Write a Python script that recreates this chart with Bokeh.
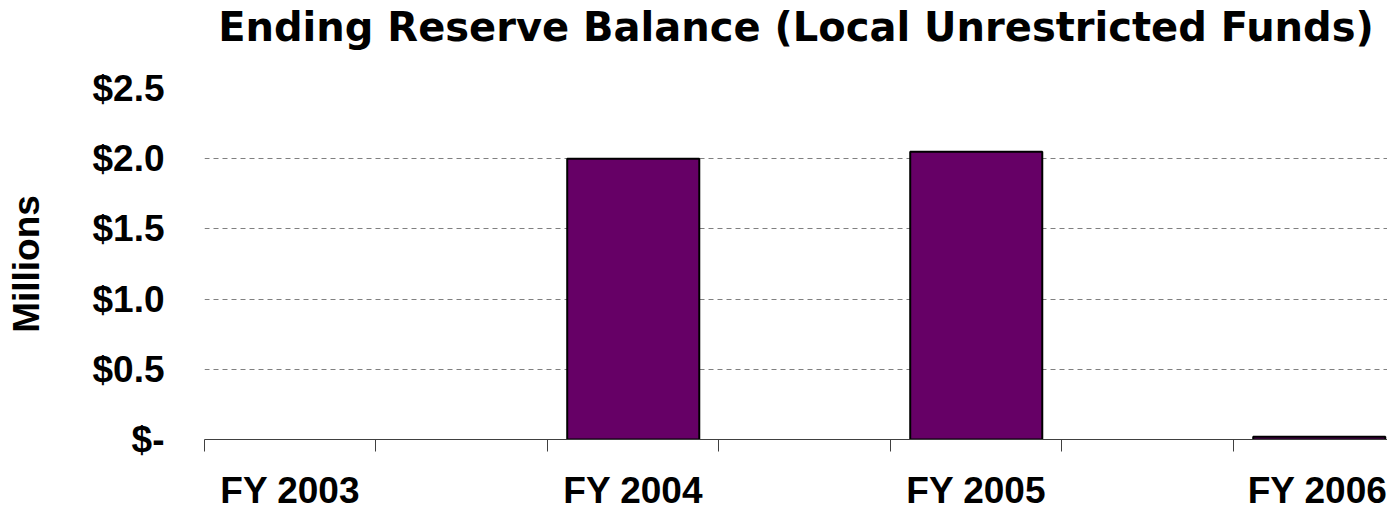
from bokeh.plotting import figure
from bokeh.models import Range1d, FixedTicker, ColumnDataSource, Title
from bokeh.embed import file_html
from bokeh.resources import INLINE

# ---- data ----
slot_labels = ["FY 2003", "", "FY 2004", "", "FY 2005", "", "FY 2006"]
values = [0.0, 0.0, 2.0, 0.0, 2.05, 0.0, 0.02]
y_ticks = [0, 0.5, 1.0, 1.5, 2.0, 2.5]
y_tick_labels = ["$-", "$0.5", "$1.0", "$1.5", "$2.0", "$2.5"]
title_text = "Ending Reserve Balance (Local Unrestricted Funds)"
y_title = "Millions"

# ---- derived ----
n = len(slot_labels)
centers = [i + 0.5 for i in range(n)]
bar_x = [centers[i] for i in range(n) if values[i] > 0]
bar_top = [values[i] for i in range(n) if values[i] > 0]
src = ColumnDataSource(dict(x=bar_x, top=bar_top))
label_ticks = [centers[i] for i in range(n) if slot_labels[i]]
label_over = {centers[i]: slot_labels[i] for i in range(n) if slot_labels[i]}

FONT = "Liberation Sans"

p = figure(width=1387, height=513, output_backend="svg", toolbar_location=None,
           x_range=Range1d(0, n - 0.102), y_range=Range1d(0, 2.5),
           min_border_left=204, min_border_right=0, min_border_top=88,
           min_border_bottom=67)
p.outline_line_color = None
p.background_fill_color = "white"
p.border_fill_color = "white"

# spacer (closest to the frame) then the real title above it
spacer = Title(text=" ", text_font_size="10px", standoff=26)
p.add_layout(spacer, "above")
main_title = Title(text=title_text, align="center", text_font="DejaVu Sans",
                   text_font_style="bold", text_font_size="40px",
                   text_color="black", standoff=0)
p.add_layout(main_title, "above")

p.vbar(x="x", top="top", bottom=0, width=0.77, source=src,
       fill_color="#660066", line_color="black", line_width=2)

# x axis
p.xaxis.ticker = FixedTicker(ticks=label_ticks, minor_ticks=list(range(n)))
p.xaxis.major_label_overrides = label_over
p.xaxis.major_tick_line_color = None
p.xaxis.major_tick_in = 0
p.xaxis.major_tick_out = 0
p.xaxis.minor_tick_line_color = "#404040"
p.xaxis.minor_tick_in = 0
p.xaxis.minor_tick_out = 12
p.xaxis.axis_line_color = "#404040"
p.xaxis.major_label_standoff = 18
p.xaxis.major_label_text_font = FONT
p.xaxis.major_label_text_font_style = "bold"
p.xaxis.major_label_text_font_size = "37px"
p.xaxis.major_label_text_color = "black"

# y axis
p.yaxis.ticker = FixedTicker(ticks=y_ticks)
p.yaxis.major_label_overrides = dict(zip(y_ticks, y_tick_labels))
p.yaxis.axis_line_color = None
p.yaxis.major_tick_line_color = None
p.yaxis.minor_tick_line_color = None
p.yaxis.major_tick_in = 0
p.yaxis.major_tick_out = 0
p.yaxis.major_label_standoff = 40
p.yaxis.major_label_text_font = FONT
p.yaxis.major_label_text_font_style = "bold"
p.yaxis.major_label_text_font_size = "37px"
p.yaxis.major_label_text_color = "black"
p.yaxis.axis_label = y_title
p.yaxis.axis_label_text_font = FONT
p.yaxis.axis_label_text_font_style = "bold"
p.yaxis.axis_label_text_font_size = "37px"
p.yaxis.axis_label_text_color = "black"
p.yaxis.axis_label_standoff = 42

# grid
p.xgrid.grid_line_color = None
p.ygrid.ticker = FixedTicker(ticks=[t for t in y_ticks if 0 < t < 2.5])
p.ygrid.grid_line_color = "#808080"
p.ygrid.grid_line_dash = "5 4"
p.ygrid.grid_line_width = 1

open("out.html", "w").write(file_html(p, INLINE))
